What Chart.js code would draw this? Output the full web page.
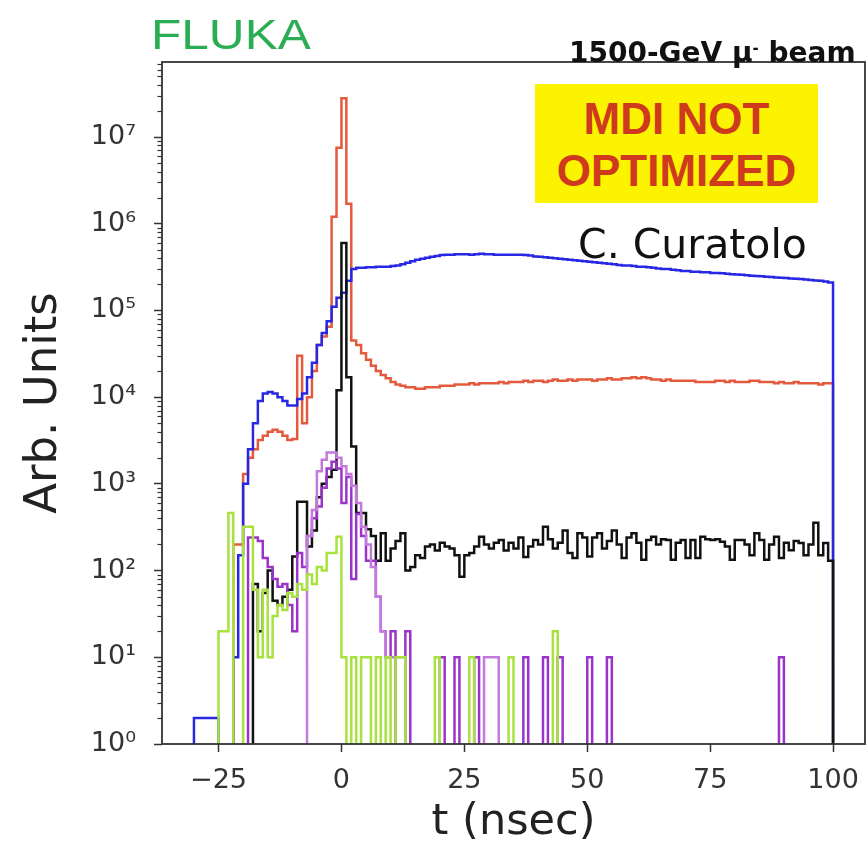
<!DOCTYPE html>
<html>
<head>
<meta charset="utf-8">
<script src="https://cdn.jsdelivr.net/npm/chart.js@4.4.1/dist/chart.umd.min.js"></script>
<style>
  html, body { margin: 0; padding: 0; background: #fff; }
  #wrap { position: relative; width: 868px; height: 851px; }
  #wrap canvas { position: absolute; left: 0; top: 0; }
  .note { position: absolute; white-space: nowrap; line-height: 1; }
  #fluka { left: 151px; top: 11px; font: 42px "Liberation Sans", Arial, sans-serif; color: #2bad55;
           transform: scaleX(1.18); transform-origin: left top; }
  #beam { left: 569px; top: 36px; font: bold 28px "DejaVu Sans", sans-serif; color: #111; }
  #beam sup { font-size: 15px; vertical-align: 9px; }
  #mdi { left: 535px; top: 84px; width: 283px; height: 119px; background: #fcf300;
         color: #cf3a1e; font: bold 44px "Liberation Sans", Arial, sans-serif;
         display: flex; flex-direction: column; align-items: center; justify-content: center; }
  #mdi div { margin-top: 2px; }
  #author { left: 578px; top: 220px; font: 41px "DejaVu Sans", sans-serif; color: #111; }
</style>
</head>
<body>
<div id="wrap">
  <canvas id="chart"></canvas>
  <div class="note" id="fluka">FLUKA</div>
  <div class="note" id="beam">1500-GeV μ<sup>-</sup> beam</div>
  <div class="note" id="mdi"><div>MDI NOT</div><div>OPTIMIZED</div></div>
  <div class="note" id="author">C. Curatolo</div>
</div>

<script>
// ===== DATA (1 ns bins, first bin starts at t = -30 ns) =====
const binStart = -30;
const binWidth = 1;
const xTicks = [-25, 0, 25, 50, 75, 100];
const yDecades = [0, 1, 2, 3, 4, 5, 6, 7];

const blue = [
  2, 2, 2, 2, 2, 0, 0, 0, 10, 150,                                             // -30..-21
  1000, 2500, 5000, 9000, 11000, 11500, 11000, 10000, 9000, 8000,              // -20..-11
  8000, 9500, 11000, 17000, 25000, 40000, 55000, 75000, 110000, 140000,        // -10..-1
  160000, 220000, 300000, 310000, 310000, 315000, 315000, 320000, 320000, 320000,
  325000, 330000, 340000, 355000, 370000, 385000, 395000, 405000, 415000, 425000,
  435000, 440000, 440000, 445000, 445000, 445000, 440000, 445000, 450000, 445000,
  445000, 440000, 440000, 440000, 440000, 440000, 440000, 435000, 430000, 420000,
  415000, 410000, 405000, 400000, 395000, 390000, 385000, 380000, 375000, 370000,
  365000, 360000, 355000, 350000, 345000, 340000, 335000, 330000, 330000, 325000,
  320000, 320000, 315000, 310000, 305000, 300000, 300000, 295000, 290000, 285000,
  285000, 280000, 280000, 275000, 275000, 270000, 270000, 268000, 265000, 262000,
  260000, 258000, 255000, 252000, 250000, 248000, 245000, 243000, 240000, 238000,
  236000, 234000, 232000, 230000, 228000, 225000, 222000, 220000, 215000, 210000
];

const red = [
  0, 0, 0, 0, 0, 0, 0, 0, 200, 200,
  1300, 2000, 2500, 3200, 3600, 4000, 4200, 4000, 3600, 3200,
  3300, 30000, 5000, 10000, 20000, 40000, 50000, 65000, 1200000, 7500000,
  28000000, 1700000, 45000, 40000, 32000, 27000, 23000, 20000, 18000, 16500,
  15000, 14000, 13500, 13000, 13000, 12500, 12500, 13000, 13000, 13000,
  13500, 13500, 13500, 14000, 14000, 14000, 14500, 14000, 14500, 14500,
  14500, 14500, 15000, 14500, 15000, 15000, 15000, 15500, 15000, 15500,
  15500, 15000, 15500, 16000, 15500, 15500, 16000, 15500, 16000, 16000,
  16000, 15500, 16000, 16000, 16500, 16000, 16000, 16500, 16500, 17000,
  16500, 17000, 16500, 16000, 16000, 15500, 16000, 15500, 15500, 15500,
  15500, 15500, 15000, 15000, 15000, 15000, 15500, 15500, 15000, 15500,
  15000, 15000, 15000, 15500, 15500, 15000, 15000, 15000, 14500, 15000,
  14500, 14500, 15000, 14500, 14500, 14500, 14500, 14000, 14500, 14500
];

const black = [
  0, 0, 0, 0, 0, 0, 0, 0, 0, 0,
  0, 0, 70, 20, 55, 100, 45, 40, 50, 60,
  145, 620, 620, 190, 290, 700, 1000, 1200, 1450, 12000,
  600000, 17000, 2700, 460, 460, 300, 250, 130, 270, 130,
  180, 220, 270, 100, 110, 150, 140, 190, 200, 170,
  210, 190, 180, 150, 85, 150, 160, 190, 245, 200,
  180, 210, 225, 170, 210, 180, 240, 143, 190, 225,
  200, 320, 230, 180, 210, 290, 160, 140, 270, 240,
  145, 240, 270, 180, 220, 290, 200, 140, 240, 270,
  210, 133, 225, 245, 200, 230, 225, 133, 210, 225,
  140, 225, 140, 245, 230, 225, 230, 215, 190, 133,
  225, 225, 200, 150, 270, 225, 133, 200, 245, 140,
  210, 172, 220, 208, 150, 200, 355, 150, 208, 130
];

const purple = [
  0, 0, 0, 0, 0, 0, 0, 0, 0, 0,
  0, 240, 240, 220, 140, 110, 80, 65, 70, 40,
  20, 160, 110, 250, 400, 550, 900, 1500, 1800, 1500,
  600, 1200, 80, 450, 250, 130, 130, 50, 20, 10,
  20, 0, 0, 20, 0, 0, 0, 0, 0, 0,
  10, 0, 0, 10, 0, 0, 0, 10, 0, 0,
  0, 0, 0, 0, 0, 0, 0, 10, 0, 0,
  0, 10, 0, 0, 10, 0, 0, 0, 0, 0,
  10, 0, 0, 0, 10, 0, 0, 0, 0, 0,
  0, 0, 0, 0, 0, 0, 0, 0, 0, 0,
  0, 0, 0, 0, 0, 0, 0, 0, 0, 0,
  0, 0, 0, 0, 0, 0, 0, 0, 0, 10,
  0, 0, 0, 0, 0, 0, 0, 0, 0, 0
];

const violet = [
  0, 0, 0, 0, 0, 0, 0, 0, 0, 0,
  0, 0, 0, 0, 0, 0, 0, 0, 0, 0,
  0, 0, 0, 250, 500, 1400, 1900, 2300, 2300, 2000,
  1600, 1300, 950, 600, 320, 200, 110, 50, 20, 10,
  10, 10, 10, 0, 0, 0, 0, 0, 0, 0,
  0, 0, 0, 0, 0, 0, 0, 0, 0, 10,
  10, 10, 0, 0, 0, 0, 0, 0, 0, 0,
  0, 0, 0, 0, 0, 0, 0, 0, 0, 0,
  0, 0, 0, 0, 0, 0, 0, 0, 0, 0,
  0, 0, 0, 0, 0, 0, 0, 0, 0, 0,
  0, 0, 0, 0, 0, 0, 0, 0, 0, 0,
  0, 0, 0, 0, 0, 0, 0, 0, 0, 0,
  0, 0, 0, 0, 0, 0, 0, 0, 0, 0
];

const green = [
  0, 0, 0, 0, 0, 20, 20, 460, 0, 0,
  320, 320, 60, 10, 60, 10, 30, 40, 35, 55,
  50, 70, 60, 90, 70, 110, 100, 160, 160, 245,
  10, 0, 10, 0, 10, 10, 0, 10, 0, 10,
  0, 10, 10, 0, 0, 0, 0, 0, 0, 10,
  0, 0, 0, 0, 0, 0, 10, 0, 0, 0,
  0, 0, 0, 0, 10, 0, 0, 0, 0, 0,
  0, 0, 0, 20, 0, 0, 0, 0, 0, 0,
  0, 0, 0, 0, 0, 0, 0, 0, 0, 0,
  0, 0, 0, 0, 0, 0, 0, 0, 0, 0,
  0, 0, 0, 0, 0, 0, 0, 0, 0, 0,
  0, 0, 0, 0, 0, 0, 0, 0, 0, 0,
  0, 0, 0, 0, 0, 0, 0, 0, 0, 0
];

// empty bins are pushed below the axis and clipped, like a step histogram on log scale
const FLOOR = 1e-2;
function histPoints(vals) {
    const pts = [{ x: binStart, y: FLOOR }];
    vals.forEach((v, i) => pts.push({ x: binStart + i * binWidth, y: v > 0 ? v : FLOOR }));
    pts.push({ x: binStart + vals.length * binWidth, y: FLOOR });
    return pts;
}

function stepSet(vals, color, order) {
    return {
        data: histPoints(vals),
        borderColor: color,
        borderWidth: 2.5,
        pointRadius: 0,
        stepped: 'before',
        fill: false,
        order: order
    };
}

const SUP = ['⁰', '¹', '²', '³', '⁴', '⁵', '⁶', '⁷', '⁸', '⁹'];

// frame + minor log ticks
const framePlugin = {
    id: 'frame',
    afterDatasetsDraw(chart) {
        const { ctx, chartArea: a, scales: { y } } = chart;
        ctx.save();
        ctx.strokeStyle = '#333';
        ctx.lineWidth = 1.2;
        yDecades.forEach(d => {
            for (let k = 2; k <= 9; k++) {
                const v = k * Math.pow(10, d);
                if (v > y.max) continue;
                const py = Math.round(y.getPixelForValue(v)) + 0.5;
                ctx.beginPath();
                ctx.moveTo(a.left - 4.5, py);
                ctx.lineTo(a.left, py);
                ctx.stroke();
            }
        });
        ctx.lineWidth = 1.8;
        ctx.strokeRect(a.left, a.top, a.right - a.left, a.bottom - a.top);
        ctx.restore();
    }
};

Chart.defaults.font.family = '"DejaVu Sans", sans-serif';

new Chart(document.getElementById('chart'), {
    type: 'line',
    data: {
        datasets: [
            stepSet(red, '#e35a3c', 5),
            stepSet(blue, '#2828e4', 4),
            stepSet(black, '#111111', 3),
            stepSet(purple, '#9b35c9', 2),
            stepSet(violet, '#c47add', 1),
            stepSet(green, '#a8e23e', 0)
        ]
    },
    options: {
        responsive: true,
        maintainAspectRatio: false,
        animation: false,
        layout: { padding: { top: 62, right: 3, left: 0, bottom: 0 } },
        plugins: { legend: { display: false }, tooltip: { enabled: false } },
        scales: {
            x: {
                type: 'linear',
                min: -36.5,
                max: 106.5,
                afterBuildTicks: s => { s.ticks = xTicks.map(v => ({ value: v })); },
                afterFit: s => { s.height = 107; s.paddingLeft = 0; s.paddingRight = 0; },
                grid: { drawOnChartArea: false, drawTicks: true, tickLength: 8, tickColor: '#333', tickWidth: 1.5 },
                border: { display: false },
                ticks: {
                    color: '#333',
                    padding: 13,
                    maxRotation: 0,
                    font: { size: 27 },
                    callback: v => (v < 0 ? '\u2212' + Math.abs(v) : String(v))
                },
                title: {
                    display: true,
                    text: 't (nsec)',
                    color: '#222',
                    font: { size: 43, lineHeight: 1 },
                    padding: { top: 0, bottom: 7 }
                }
            },
            y: {
                type: 'logarithmic',
                min: 1,
                max: 7.33e7,
                afterBuildTicks: s => { s.ticks = yDecades.map(d => ({ value: Math.pow(10, d) })); },
                afterFit: s => { s.width = 162; s.paddingTop = 0; s.paddingBottom = 0; },
                grid: { drawOnChartArea: false, drawTicks: true, tickLength: 8, tickColor: '#333', tickWidth: 1.5 },
                border: { display: false },
                ticks: {
                    color: '#333',
                    padding: 18,
                    font: { size: 27 },
                    callback: v => '10' + SUP[Math.round(Math.log10(v))]
                },
                title: {
                    display: true,
                    text: 'Arb. Units',
                    color: '#222',
                    font: { size: 45, lineHeight: 1 },
                    padding: { top: 22, bottom: 0 }
                }
            }
        }
    },
    plugins: [framePlugin]
});
</script>
</body>
</html>
